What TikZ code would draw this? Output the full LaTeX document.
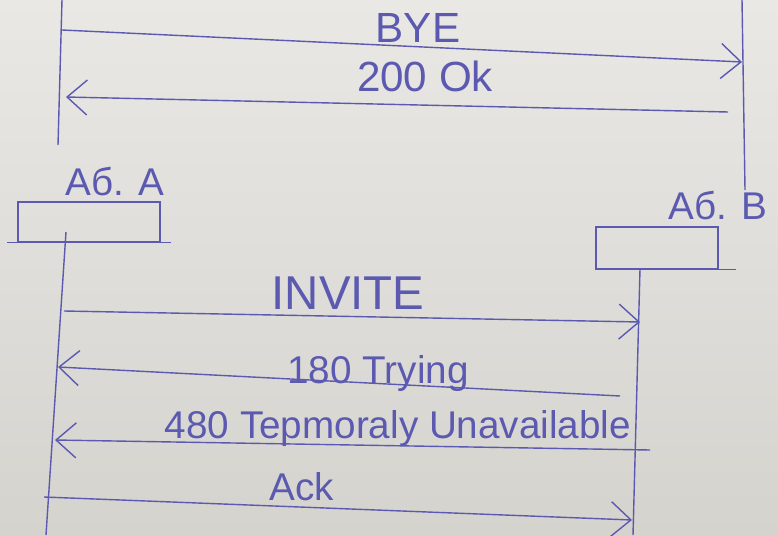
\documentclass[tikz,border=0pt]{standalone}
\usepackage{fontspec}
\setmainfont{Liberation Sans}
\usetikzlibrary{arrows.meta}
\definecolor{ink}{RGB}{92,90,176}
\definecolor{paperlight}{RGB}{233,232,229}
\definecolor{paperdark}{RGB}{212,211,206}
\begin{document}
\begin{tikzpicture}[
  x=0.2mm, y=-0.2mm,
  font=\fontsize{22}{24}\selectfont,
  line/.style={draw=ink, line width=0.8pt},
  msg/.style={line, -{Straight Barb[length=4mm,width=7mm,line width=0.8pt]}},
  lbl/.style={text=ink, inner sep=1pt},
  box/.style={line, minimum width=2.84cm, minimum height=0.8cm, inner sep=0pt}]
% paper
\shade[top color=paperlight, bottom color=paperdark] (0,0) rectangle (778,535);
\useasboundingbox (0,0) rectangle (778,535);

% end of the previous call
\coordinate (oldA0) at (62,0);
\coordinate (oldA9) at (58,145);
\coordinate (oldB0) at (742,0);
\coordinate (oldB9) at (745,190);
\draw[line] (oldA0) -- (oldA9);
\draw[line] (oldB0) -- (oldB9);
\coordinate (byeA) at (62,30);
\coordinate (byeB) at (742,62);
\coordinate (okB) at (728,112);
\coordinate (okA) at (66,97);
\draw[msg] (byeA) -- (byeB);
\draw[msg] (okB) -- (okA);
\node[lbl,font=\fontsize{24}{26}\selectfont] (bye) at (418,28) {BYE};
\node[lbl,font=\fontsize{24}{26}\selectfont] (ok) at (425,76) {200 Ok};

% subscribers
\node[box] (boxA) at (89,222) {};
\node[box,minimum width=2.44cm,minimum height=0.84cm] (boxB) at (657,248) {};
\draw[line] ([xshift=-2mm]boxA.south west) -- ([xshift=2mm]boxA.south east);
\draw[line] (boxB.south west) -- ([xshift=3.4mm]boxB.south east);
\node[lbl] (labA) at (115,182) {Аб. A};
\node[lbl] (labB) at (718,206) {Аб. B};

% lifelines
\coordinate (A0) at (66,232);
\coordinate (A9) at (46,535);
\coordinate (B0) at (640,269);
\coordinate (B9) at (633,535);
\draw[line] (A0) -- (A9);
\draw[line] (B0) -- (B9);

% new call
\coordinate (invA) at (64,311);
\coordinate (invB) at (640,322);
\coordinate (tryB) at (620,396);
\coordinate (tryA) at (58,367);
\coordinate (unB) at (650,450);
\coordinate (unA) at (55,440);
\coordinate (ackA) at (44,497);
\coordinate (ackB) at (632,520);
\draw[msg] (invA) -- (invB);
\draw[msg] (tryB) -- (tryA);
\draw[msg] (unB) -- (unA);
\draw[msg] (ackA) -- (ackB);
\node[lbl,font=\fontsize{27}{29}\selectfont] (invite) at (348,293) {INVITE};
\node[lbl] (trying) at (378,373) {180 Trying};
\node[lbl] (unavail) at (398,428) {480 Tepmoraly Unavailable};
\node[lbl] (ack) at (302,487) {Ack};
\end{tikzpicture}
\end{document}
